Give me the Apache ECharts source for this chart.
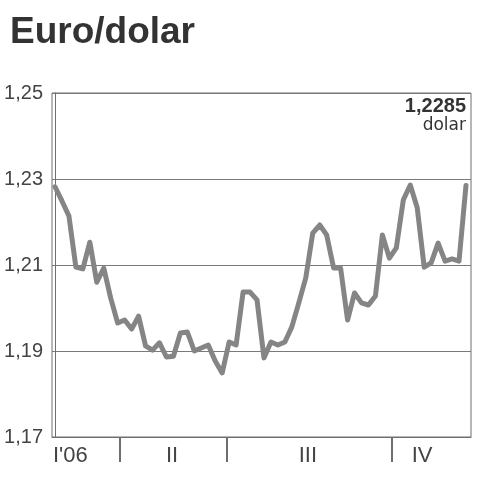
<!DOCTYPE html>
<html>
<head>
<meta charset="utf-8">
<style>
  html, body { margin: 0; padding: 0; background: #ffffff; }
  #chart { width: 480px; height: 480px; }
</style>
<script src="https://cdn.jsdelivr.net/npm/echarts@6/dist/echarts.min.js"></script>
</head>
<body>
<div id="chart"></div>
<script>
// Euro/dolar exchange rate, 2006
var rates = [
  1.2282, 1.2249, 1.2214, 1.2095, 1.2091, 1.2153, 1.2060, 1.2093, 1.2023, 1.1965,
  1.1972, 1.1951, 1.1981, 1.1912, 1.1902, 1.1919, 1.1886, 1.1888, 1.1942, 1.1944,
  1.1900, 1.1907, 1.1914, 1.1877, 1.1849, 1.1921, 1.1914, 1.2037, 1.2037, 1.2019,
  1.1884, 1.1921, 1.1914, 1.1921, 1.1956, 1.2012, 1.2070, 1.2174, 1.2193, 1.2170,
  1.2093, 1.2093, 1.1972, 1.2035, 1.2012, 1.2007, 1.2028, 1.2170, 1.2116, 1.2140,
  1.2251, 1.2286, 1.2233, 1.2095, 1.2105, 1.2151, 1.2109, 1.2114, 1.2109, 1.2285
];
// quarter boundaries and label positions, in observation-index units
var quarterTicks = [9.33, 24.69, 48.38];
var quarterLabelPos = [2.2, 16.8, 36.3, 52.7];
var quarterLabels = ["I'06", "II", "III", "IV"];
var yTicks = [1.17, 1.19, 1.21, 1.23, 1.25];
var lastValueText = "1,2285";
var lastValueUnit = "dolar";

var seriesData = rates.map(function (v, i) { return [i, v]; });

var chart = echarts.init(document.getElementById('chart'), null, { renderer: 'canvas' });
chart.setOption({
  animation: false,
  backgroundColor: '#ffffff',
  title: {
    text: 'Euro/dolar',
    left: 5,
    top: 9,
    textStyle: {
      fontFamily: 'Liberation Sans',
      fontWeight: 'bold',
      fontSize: 37,
      color: '#333333'
    }
  },
  grid: {
    left: 52, right: 9, top: 93, bottom: 43,
    show: true,
    borderColor: '#6e6e6e',
    borderWidth: 1,
    containLabel: false
  },
  xAxis: {
    type: 'value',
    min: -0.43,
    max: 59.72,
    axisLine: { show: true, onZero: false, lineStyle: { color: '#6e6e6e', width: 1 } },
    axisTick: {
      show: true,
      customValues: quarterTicks,
      length: 25,
      lineStyle: { color: '#6e6e6e', width: 2 }
    },
    axisLabel: {
      show: true,
      customValues: quarterLabelPos,
      margin: 8,
      fontFamily: 'Liberation Sans',
      fontSize: 22,
      color: '#444444',
      formatter: function (val) {
        var best = 0, bd = Infinity;
        quarterLabelPos.forEach(function (p, i) {
          var d = Math.abs(p - val);
          if (d < bd) { bd = d; best = i; }
        });
        return quarterLabels[best];
      }
    },
    splitLine: { show: false }
  },
  yAxis: {
    type: 'value',
    min: yTicks[0],
    max: yTicks[yTicks.length - 1],
    interval: 0.02,
    axisLine: { show: true, lineStyle: { color: '#6e6e6e', width: 1 } },
    axisTick: { show: false },
    axisLabel: {
      margin: 9,
      fontFamily: 'Liberation Sans',
      fontSize: 20,
      color: '#444444',
      padding: [0, 0, 8, 0],
      formatter: function (v) { return v.toFixed(2).replace('.', ','); }
    },
    splitLine: { show: true, lineStyle: { color: '#7a7a7a', width: 1 } }
  },
  graphic: [
    {
      type: 'text',
      right: 14,
      top: 96,
      style: {
        text: lastValueText,
        fontFamily: 'Liberation Sans',
        fontWeight: 'bold',
        fontSize: 20,
        fill: '#333333',
        textAlign: 'right'
      }
    },
    {
      type: 'text',
      right: 14,
      top: 117,
      style: {
        text: lastValueUnit,
        fontFamily: 'DejaVu Sans',
        fontSize: 17,
        fill: '#333333',
        textAlign: 'right'
      }
    }
  ],
  series: [{
    type: 'line',
    data: seriesData,
    showSymbol: false,
    symbol: 'none',
    lineStyle: { color: '#858585', width: 5, join: 'round', cap: 'round' },
    z: 3
  }]
});
</script>
</body>
</html>
